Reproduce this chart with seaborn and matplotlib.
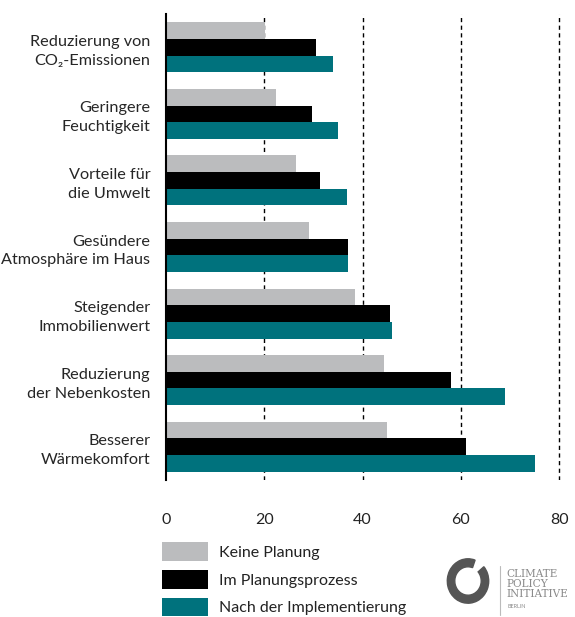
import pandas as pd
import seaborn as sns
import matplotlib.pyplot as plt
from matplotlib.patches import Wedge

categories = ['Reduzierung von\nCO₂-Emissionen', 'Geringere\nFeuchtigkeit', 'Vorteile für\ndie Umwelt',
              'Gesündere\nAtmosphäre im Haus', 'Steigender\nImmobilienwert', 'Reduzierung\nder Nebenkosten',
              'Besserer\nWärmekomfort']
series = ['Keine Planung', 'Im Planungsprozess', 'Nach der Implementierung']
keine = [20.2, 22.4, 26.5, 29.1, 38.5, 44.4, 45.0]
planung = [30.6, 29.7, 31.4, 37.1, 45.6, 58.0, 61.0]
implementiert = [34.0, 35.0, 36.9, 37.1, 46.0, 69.0, 75.1]
xticks = [0, 20, 40, 60, 80]
colors = ['#bbbcbe', '#000000', '#00727d']

data = pd.DataFrame({
    'Kategorie': categories * 3,
    'Gruppe': [s for s in series for _ in categories],
    'Wert': keine + planung + implementiert,
})

sns.set_style('white')
plt.rcParams['font.family'] = ['Lato', 'DejaVu Sans']
plt.rcParams['font.size'] = 11.5
plt.rcParams['text.color'] = '#222222'

fig = plt.figure(figsize=(5.75, 6.17), dpi=100)
ax = fig.add_axes([165.7/575, 1-480/617, 395.1/575, 466/617])

sns.barplot(data=data, y='Kategorie', x='Wert', hue='Gruppe', orient='h',
            palette=colors, width=0.75, linewidth=0, saturation=1, ax=ax)

ax.set_xlim(0, 80.3)
ax.set_ylim(6.5, -0.5)
ax.set_xlabel('')
ax.set_ylabel('')
for x in xticks[1:]:
    ax.axvline(x, color='black', ls=(0, (3, 2.5)), lw=1, zorder=0)

ax.set_xticks(xticks)
ax.tick_params(axis='x', length=0, pad=24, labelsize=11.5, labelcolor='#222222')

# category labels on minor ticks, group boundaries on major ticks
ax.set_yticks([i - 0.5 for i in range(8)])
ax.set_yticklabels([])
ax.set_yticks(range(7), minor=True)
ax.set_yticklabels(categories, minor=True, linespacing=1.45, ha='right')
ax.tick_params(axis='y', which='major', length=6, width=1.5, color='#333333', direction='out')
ax.tick_params(axis='y', which='minor', length=0, pad=11, labelsize=11.7)

sns.despine(ax=ax, top=True, right=True, bottom=True)
ax.spines['left'].set_color('black')
ax.spines['left'].set_linewidth(1.5)

sns.move_legend(ax, 'upper left', bbox_to_anchor=(162/575, 1-542/617), bbox_transform=fig.transFigure,
                frameon=False, title=None, handlelength=2.9, handleheight=1.45, labelspacing=0.55,
                handletextpad=0.65, borderpad=0, borderaxespad=0, fontsize=11.5)

# logo
fig.patches.append(Wedge((468/575, 1-581/617), 0.036, 70, 400, width=0.013, color='#555555',
                         transform=fig.transFigure, figure=fig))
fig.add_artist(plt.Line2D([500/575, 500/575], [1-566/617, 1-615/617], color='#bbbbbb', lw=0.8))
fig.text(506/575, 1-584/617, 'CLIMATE\nPOLICY\nINITIATIVE', family='DejaVu Serif', fontsize=7.6,
         color='#8a8a8a', va='center', linespacing=1.0)
fig.text(507/575, 1-607/617, 'BERLIN', fontsize=4, color='#8a8a8a', va='center')

fig.savefig('out.png', dpi=100)
